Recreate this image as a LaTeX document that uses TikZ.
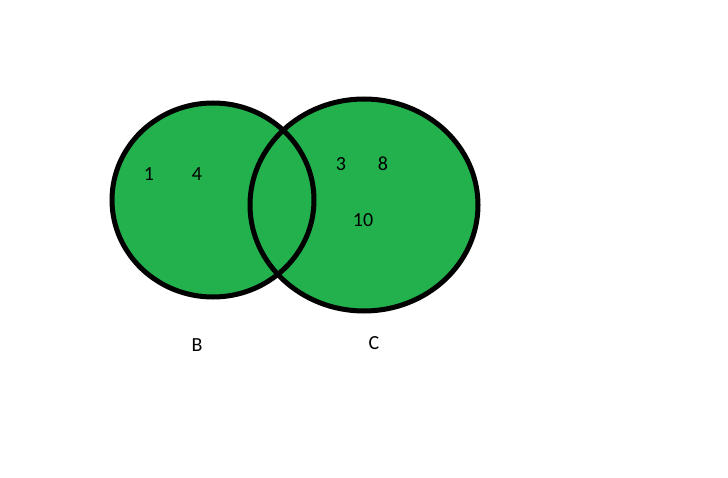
\documentclass[tikz,border=0pt]{standalone}
\usepackage{fontspec}
\setmainfont{Carlito}
\usetikzlibrary{positioning}

\definecolor{setgreen}{RGB}{34,177,76}

\begin{document}
\begin{tikzpicture}[
    x=1pt, y=-1pt,
    setfill/.style={fill=setgreen, draw=none},
    setline/.style={draw=black, line width=5pt},
    elem/.style={font=\fontsize{20}{20}\selectfont, inner sep=0pt},
    setname/.style={font=\fontsize{20}{20}\selectfont, inner sep=0pt}
]
\useasboundingbox (0,0) rectangle (728,478);
% sets
\fill[setfill] (213,200) ellipse [x radius=101, y radius=97];
\fill[setfill] (364,205) ellipse [x radius=114, y radius=106];
\draw[setline] (213,200) ellipse [x radius=101, y radius=97];
\draw[setline] (364,205) ellipse [x radius=114, y radius=106];
\coordinate (cB) at (213,200);
\coordinate (cC) at (364,205);

% elements
\node[elem] (e1) at (149,174) {1};
\node[elem] (e4) at (197,174) {4};
\node[elem] (e3) at (341,164) {3};
\node[elem] (e8) at (383,164) {8};
\node[elem] (e10) at (363,220) {10};

% names
\node[setname] (nB) at (197,345) {B};
\node[setname] (nC) at (374,343) {C};
\end{tikzpicture}
\end{document}
